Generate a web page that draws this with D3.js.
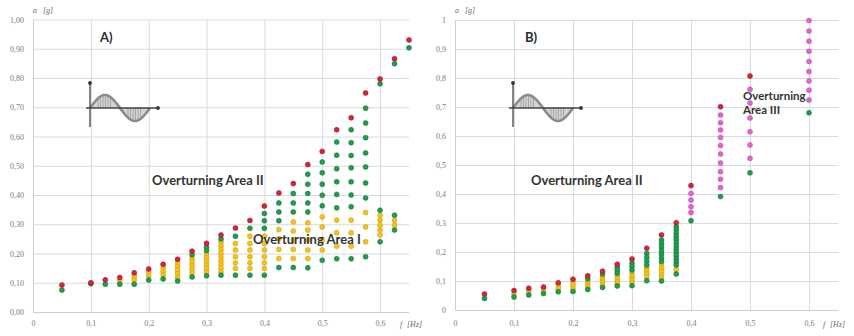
<!DOCTYPE html>
<html><head><meta charset="utf-8">
<script src="https://cdn.jsdelivr.net/npm/d3@7"></script>
<style>
body{margin:0;background:#fff}
svg{display:block}
</style>
</head><body>
<svg id="chart" width="854" height="336"></svg>
<script>
// Frequency ticks shared by both panels
const xTicks = [0, 0.1, 0.2, 0.3, 0.4, 0.5, 0.6];
const xTickLabels = ["0", "0,1", "0,2", "0,3", "0,4", "0,5", "0,6"];
const yTicks = [0, 0.1, 0.2, 0.3, 0.4, 0.5, 0.6, 0.7, 0.8, 0.9, 1];
const yTickLabelsA = ["0,00", "0,10", "0,20", "0,30", "0,40", "0,50", "0,60", "0,70", "0,80", "0,90", "1,00"];
const yTickLabelsB = ["0", "0,1", "0,2", "0,3", "0,4", "0,5", "0,6", "0,7", "0,8", "0,9", "1"];

// Panel A: [frequency Hz, [accelerations g]]
const redA = [
  [0.05, [0.092]], [0.1, [0.100]], [0.125, [0.110]], [0.15, [0.118]], [0.175, [0.134]],
  [0.2, [0.147]], [0.225, [0.163]], [0.25, [0.180]], [0.275, [0.208]], [0.3, [0.235]],
  [0.325, [0.263]], [0.35, [0.287]], [0.375, [0.313]], [0.4, [0.362]], [0.425, [0.407]],
  [0.45, [0.439]], [0.475, [0.504]], [0.5, [0.549]], [0.525, [0.623]], [0.55, [0.664]],
  [0.575, [0.749]], [0.6, [0.797]], [0.625, [0.866]], [0.65, [0.930]]
];
const greenA = [
  [0.05, [0.075]], [0.1, [0.097]], [0.125, [0.095]], [0.15, [0.095]], [0.175, [0.095]],
  [0.2, [0.109]], [0.225, [0.113]], [0.25, [0.106]], [0.275, [0.196, 0.120]],
  [0.3, [0.222, 0.210, 0.124]], [0.325, [0.250, 0.126]], [0.35, [0.259, 0.126]],
  [0.375, [0.286, 0.126]], [0.4, [0.337, 0.312, 0.286, 0.126]],
  [0.425, [0.373, 0.342, 0.312, 0.152]], [0.45, [0.405, 0.373, 0.342, 0.152]],
  [0.475, [0.471, 0.437, 0.405, 0.373, 0.342, 0.151]],
  [0.5, [0.513, 0.476, 0.437, 0.399, 0.363, 0.177]],
  [0.525, [0.581, 0.536, 0.490, 0.445, 0.402, 0.356, 0.182]],
  [0.55, [0.623, 0.579, 0.535, 0.493, 0.445, 0.400, 0.360, 0.182]],
  [0.575, [0.697, 0.646, 0.596, 0.544, 0.496, 0.441, 0.390, 0.189]],
  [0.6, [0.780, 0.348, 0.240]], [0.625, [0.849, 0.331, 0.280]], [0.65, [0.903]]
];
const yellowA = [
  [0.15, [0.107]], [0.175, [0.122, 0.110]], [0.2, [0.136, 0.123]],
  [0.225, [0.151, 0.139, 0.127]], [0.25, [0.168, 0.156, 0.143, 0.131, 0.118]],
  [0.275, [0.184, 0.172, 0.159, 0.146, 0.133]],
  [0.3, [0.198, 0.186, 0.173, 0.161, 0.149, 0.136]],
  [0.325, [0.238, 0.226, 0.213, 0.200, 0.188, 0.175, 0.163, 0.150, 0.138]],
  [0.35, [0.234, 0.212, 0.189, 0.168, 0.149]],
  [0.375, [0.259, 0.234, 0.212, 0.189, 0.168, 0.149]],
  [0.4, [0.259, 0.234, 0.212, 0.189, 0.168, 0.149]],
  [0.425, [0.282, 0.251, 0.214, 0.183]], [0.45, [0.308, 0.277, 0.246, 0.214, 0.183]],
  [0.475, [0.305, 0.280, 0.246, 0.212, 0.183]], [0.5, [0.325, 0.291, 0.246, 0.212]],
  [0.525, [0.314, 0.271, 0.225]], [0.55, [0.314, 0.271, 0.225]],
  [0.575, [0.340, 0.291, 0.240]], [0.6, [0.331, 0.314, 0.297, 0.280, 0.263]],
  [0.625, [0.314, 0.297]]
];

// Panel B: [frequency Hz, [accelerations g]]
const redB = [
  [0.05, [0.055]], [0.1, [0.067]], [0.125, [0.075]], [0.15, [0.079]], [0.175, [0.094]],
  [0.2, [0.106]], [0.225, [0.118]], [0.25, [0.134]], [0.275, [0.158]], [0.3, [0.176]],
  [0.325, [0.213]], [0.35, [0.259]], [0.375, [0.301]], [0.4, [0.429]], [0.45, [0.701]],
  [0.5, [0.807]]
];
const greenB = [
  [0.05, [0.040]], [0.1, [0.045]], [0.125, [0.052]], [0.15, [0.057]], [0.175, [0.063]],
  [0.2, [0.064]], [0.225, [0.108, 0.071]], [0.25, [0.124, 0.078]],
  [0.275, [0.147, 0.137, 0.127, 0.083]], [0.3, [0.162, 0.150, 0.138, 0.084]],
  [0.325, [0.195, 0.182, 0.168, 0.155, 0.101]],
  [0.35, [0.241, 0.229, 0.217, 0.204, 0.192, 0.179, 0.167, 0.100]],
  [0.375, [0.287, 0.276, 0.265, 0.254, 0.243, 0.232, 0.221, 0.210, 0.199, 0.188, 0.177, 0.166, 0.155, 0.124]],
  [0.4, [0.308]], [0.45, [0.391]], [0.5, [0.473]], [0.6, [0.680]]
];
const yellowB = [
  [0.1, [0.056]], [0.125, [0.064]], [0.15, [0.068]], [0.175, [0.084, 0.074]],
  [0.2, [0.095, 0.085, 0.075]], [0.225, [0.098, 0.088, 0.080]],
  [0.25, [0.114, 0.105, 0.096, 0.087]], [0.275, [0.117, 0.107, 0.097, 0.090]],
  [0.3, [0.125, 0.115, 0.105, 0.095]], [0.325, [0.144, 0.134, 0.124, 0.114]],
  [0.35, [0.155, 0.144, 0.132, 0.120, 0.109]], [0.375, [0.140]]
];
const magentaB = [
  [0.4, [0.402, 0.379, 0.356, 0.336]],
  [0.45, [0.672, 0.646, 0.621, 0.595, 0.567, 0.538, 0.507, 0.477, 0.451, 0.422]],
  [0.5, [0.761, 0.714, 0.662, 0.615, 0.569, 0.523]],
  [0.6, [0.998, 0.962, 0.927, 0.892, 0.857, 0.822, 0.790, 0.758, 0.724]]
];

const colors = {
  red: "#d8223e", redEdge: "#8e1526",
  green: "#1f9e4e", greenEdge: "#156b36",
  yellow: "#f4c21a", yellowEdge: "#c99a0c",
  magenta: "#e463d4", magentaEdge: "#b548a8"
};

const svg = d3.select("#chart");

const panels = [
  {
    id: "A", xRange: [33, 409], yRange: [312, 19.5], yLabels: yTickLabelsA,
    series: [[yellowA, "yellow"], [greenA, "green"], [redA, "red"]],
    letter: { text: "A)", x: 100, y: 42 },
    notes: [
      { text: "Overturning Area II", x: 152, y: 185, size: 13 },
      { text: "Overturning Area I", x: 253, y: 244, size: 13 }
    ],
    icon: { x: 90, y: 108 },
    yTitleX: 33, xTitleX: 400
  },
  {
    id: "B", xRange: [455, 838.5], yRange: [310, 20], yLabels: yTickLabelsB,
    series: [[yellowB, "yellow"], [greenB, "green"], [magentaB, "magenta"], [redB, "red"]],
    letter: { text: "B)", x: 525, y: 42 },
    notes: [
      { text: "Overturning Area II", x: 531, y: 185, size: 13 },
      { text: "Overturning", x: 743, y: 100, size: 11.5 },
      { text: "Area III", x: 743, y: 114, size: 11.5 }
    ],
    icon: { x: 513, y: 108 },
    yTitleX: 455, xTitleX: 823
  }
];

panels.forEach(p => {
  const x = d3.scaleLinear().domain([0, 0.65]).range(p.xRange);
  const y = d3.scaleLinear().domain([0, 1]).range(p.yRange);
  const g = svg.append("g").attr("class", "panel-" + p.id);

  // horizontal grid + y labels
  const yAxis = d3.axisLeft(y)
    .tickValues(yTicks)
    .tickFormat((d, i) => p.yLabels[i])
    .tickSize(-(p.xRange[1] - p.xRange[0]))
    .tickPadding(9);
  const ya = g.append("g").attr("transform", `translate(${p.xRange[0]},0)`).call(yAxis);

  // vertical grid + x labels
  const xAxis = d3.axisBottom(x)
    .tickValues(xTicks)
    .tickFormat((d, i) => xTickLabels[i])
    .tickSize(-(p.yRange[0] - p.yRange[1]))
    .tickPadding(p.id === "A" ? 8 : 10);
  const xa = g.append("g").attr("transform", `translate(0,${p.yRange[0]})`).call(xAxis);

  [ya, xa].forEach(a => {
    a.select(".domain").remove();
    a.selectAll(".tick line").attr("stroke", "#dadada").attr("stroke-width", 1);
    a.selectAll(".tick text")
      .attr("fill", "#7a7a7a")
      .attr("font-family", "'Liberation Serif', serif")
      .attr("font-size", 8);
  });
  xa.selectAll(".tick line").filter(d => d === 0).attr("stroke", "#cfcfcf");
  ya.selectAll(".tick line").filter(d => d === 0).attr("stroke", "#cfcfcf");

  // axis titles
  const tStyle = s => s.attr("fill", "#6a6a6a").attr("font-family", "'Liberation Serif', serif")
    .attr("font-style", "italic").attr("font-size", 8);
  g.append("text").attr("x", p.yTitleX).attr("y", 13).text("a").call(tStyle);
  g.append("text").attr("x", p.yTitleX + 10).attr("y", 13).text("[g]").call(tStyle);
  g.append("text").attr("x", p.xTitleX).attr("y", 327).text("f").call(tStyle);
  g.append("text").attr("x", p.xTitleX + 7).attr("y", 327).text("[Hz]").call(tStyle);

  // excitation icon: one sine period over small axes
  const ic = g.append("g").attr("transform", `translate(${p.icon.x},${p.icon.y})`);
  const per = 60, amp = 13;
  const wave = d3.range(0, per + 0.5, 1).map(t => [t, -amp * Math.sin(2 * Math.PI * t / per)]);
  ic.append("path")
    .attr("d", d3.area().x(d => d[0]).y0(0).y1(d => d[1])(wave))
    .attr("fill", "#d4d4d4");
  const hatch = d3.range(8, 23, 2.5).concat(d3.range(38, 53, 2.5));
  ic.selectAll("line.h").data(hatch).join("line")
    .attr("x1", d => d).attr("x2", d => d).attr("y1", 0)
    .attr("y2", d => -amp * Math.sin(2 * Math.PI * d / per))
    .attr("stroke", "#9a9a9a").attr("stroke-width", 0.8);
  ic.append("path")
    .attr("d", d3.line().x(d => d[0]).y(d => d[1])(wave))
    .attr("fill", "none").attr("stroke", "#8a8a8a").attr("stroke-width", 2.6);
  ic.append("line").attr("x1", -4).attr("x2", 68).attr("y1", 0).attr("y2", 0)
    .attr("stroke", "#444").attr("stroke-width", 1.3);
  ic.append("line").attr("x1", 0).attr("x2", 0).attr("y1", -25).attr("y2", 19)
    .attr("stroke", "#444").attr("stroke-width", 1.3);
  ic.append("circle").attr("cx", 68).attr("cy", 0).attr("r", 1.9).attr("fill", "#333");
  ic.append("circle").attr("cx", 0).attr("cy", -25).attr("r", 1.9).attr("fill", "#333");

  // test points
  p.series.forEach(([data, key]) => {
    const pts = data.flatMap(([f, arr]) => arr.map(a => ({ f, a })));
    g.append("g").selectAll("circle").data(pts).join("circle")
      .attr("cx", d => x(d.f)).attr("cy", d => y(d.a)).attr("r", 2.5)
      .attr("fill", colors[key]).attr("stroke", colors[key + "Edge"]).attr("stroke-width", 0.5);
  });

  // labels
  g.append("text").attr("x", p.letter.x).attr("y", p.letter.y).text(p.letter.text)
    .attr("font-family", "Lato, 'Open Sans', sans-serif").attr("font-weight", 700)
    .attr("font-size", 13).attr("fill", "#2a2a2a");
  p.notes.forEach(n => {
    g.append("text").attr("x", n.x).attr("y", n.y).text(n.text)
      .attr("font-family", "Lato, 'Open Sans', sans-serif").attr("font-weight", 700)
      .attr("font-size", n.size).attr("fill", "#333");
  });
});
</script>
</body></html>
